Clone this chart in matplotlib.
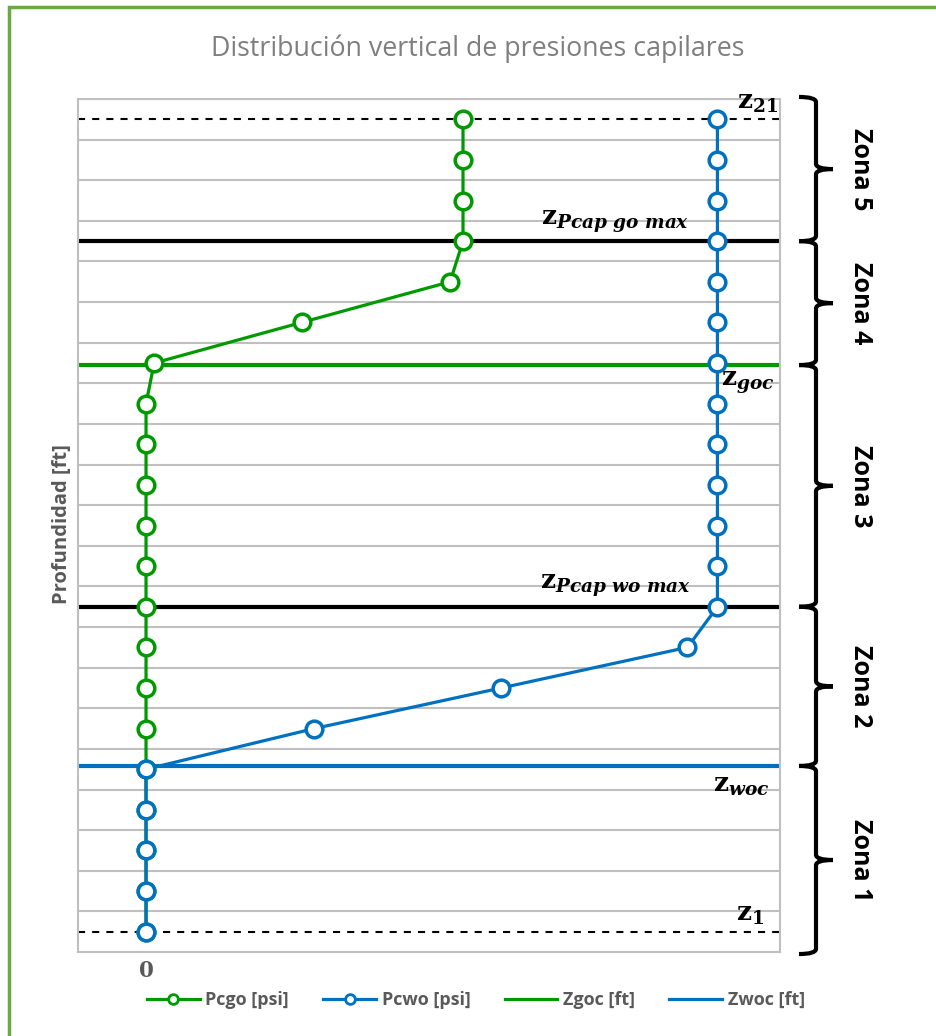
import numpy as np
import matplotlib.pyplot as plt
from matplotlib.path import Path
from matplotlib.patches import PathPatch, Rectangle
from matplotlib.lines import Line2D

plt.rcParams['mathtext.fontset'] = 'custom'
plt.rcParams['mathtext.rm'] = 'DejaVu Serif:bold'
plt.rcParams['mathtext.it'] = 'DejaVu Serif:italic:bold'

# depth index (1 = bottom z1, 21 = top z21)
depth = np.arange(1, 22)
pcgo = [0, 0, 0, 0, 0, 0, 0, 0, 0, 0, 0, 0, 0, 0, 0.12, 2.29, 4.47, 4.66, 4.66, 4.66, 4.66]
pcwo = [0, 0, 0, 0, 0, 2.47, 5.22, 7.96, 8.4, 8.4, 8.4, 8.4, 8.4, 8.4, 8.4, 8.4, 8.4, 8.4, 8.4, 8.4, 8.4]
zgoc = 14.95
zwoc = 5.08
z_pcap_go_max = 18
z_pcap_wo_max = 9
z_top = 21
z_bot = 1

zonas = ['Zona 1', 'Zona 2', 'Zona 3', 'Zona 4', 'Zona 5']
zona_lims = [0.45, zwoc, z_pcap_wo_max, zgoc, z_pcap_go_max, 21.55]

green = '#009a00'
blue = '#0070c0'
gray_txt = '#595959'
grid_c = '#bfbfbf'

fig = plt.figure(figsize=(9.36, 10.36), dpi=100)
ax = fig.add_axes([78 / 936, 1 - 952 / 1036, 702 / 936, 853 / 1036])

# outer green frame (only top and left edge fall inside the image)
fig.patches.append(Rectangle((8.5 / 936, -1), 2, 2 - 7 / 1036, transform=fig.transFigure,
                             fill=False, edgecolor='#6aaa44', linewidth=2.5))

ax.set_xlim(-1, 9.32)
ax.set_ylim(0.5, 21.5)
ax.set_yticks(np.arange(0.5, 21.6, 1))
ax.set_yticklabels([])
ax.tick_params(axis='y', length=0)
ax.grid(axis='y', color=grid_c, linewidth=1.5)
ax.set_axisbelow(True)
ax.set_xticks([0])
ax.set_xticklabels(['0'], fontfamily='DejaVu Serif', fontweight='bold', fontsize=15.5, color=gray_txt)
ax.tick_params(axis='x', length=0, pad=6)
for s in ax.spines.values():
    s.set_color(grid_c)
    s.set_linewidth(1.5)

ax.axhline(z_top, color='black', linestyle=(0, (3.4, 3.4)), linewidth=1.5)
ax.axhline(z_bot, color='black', linestyle=(0, (3.4, 3.4)), linewidth=1.5)
ax.axhline(z_pcap_go_max, color='black', linewidth=3)
ax.axhline(z_pcap_wo_max, color='black', linewidth=3)
ax.axhline(zgoc, color=green, linewidth=3)
ax.axhline(zwoc, color=blue, linewidth=3)

ax.plot(pcgo, depth, color=green, linewidth=2.3, marker='o', markersize=12,
        markerfacecolor='white', markeredgewidth=2.5, markeredgecolor=green)
ax.plot(pcwo, depth, color=blue, linewidth=2.3, marker='o', markersize=12,
        markerfacecolor='white', markeredgewidth=2.5, markeredgecolor=blue)

# z labels
lab_kw = dict(fontsize=19, color='black')
ax.text(8.99, 21.1, r'$\mathrm{z}_{21}$', ha='center', va='bottom', **lab_kw)
ax.text(6.9, 18.15, r'$\mathrm{z}_{Pcap\ go\ max}$', ha='center', va='bottom', **lab_kw)
ax.text(8.84, 14.85, r'$\mathrm{z}_{goc}$', ha='center', va='top', **lab_kw)
ax.text(6.91, 9.18, r'$\mathrm{z}_{Pcap\ wo\ max}$', ha='center', va='bottom', **lab_kw)
ax.text(8.75, 4.93, r'$\mathrm{z}_{woc}$', ha='center', va='top', **lab_kw)
ax.text(8.88, 1.12, r'$\mathrm{z}_{1}$', ha='center', va='bottom', **lab_kw)

# curly braces on the right
trans = ax.get_yaxis_transform()
xa = lambda px: (px - 78) / 702.0
x0, x1, x2 = xa(799), xa(816), xa(833)
yr = 0.13
for i, name in enumerate(zonas):
    lo, hi = zona_lims[i], zona_lims[i + 1]
    mid = (lo + hi) / 2
    verts = [(x0, hi), (x1, hi), (x1, hi - yr),
             (x1, mid + yr), (x1, mid), (x2, mid),
             (x2, mid), (x1, mid), (x1, mid - yr),
             (x1, lo + yr), (x1, lo), (x0, lo)]
    codes = [Path.MOVETO, Path.CURVE3, Path.CURVE3,
             Path.LINETO, Path.CURVE3, Path.CURVE3,
             Path.MOVETO, Path.CURVE3, Path.CURVE3,
             Path.LINETO, Path.CURVE3, Path.CURVE3]
    ax.add_patch(PathPatch(Path(verts, codes), transform=trans, fill=False,
                           edgecolor='black', linewidth=3, clip_on=False))
    ax.text(xa(861), mid, name, transform=trans, rotation=270, ha='center', va='center',
            fontsize=18, fontweight='bold', fontfamily='Open Sans', color='black')

fig.text(0.51, 1 - 49 / 1036, 'Distribución vertical de presiones capilares', ha='center', va='center',
         fontsize=19.3, fontfamily='Open Sans', color='#7f7f7f')
fig.text(62 / 936, 1 - 524 / 1036, 'Profundidad [ft]', rotation=90, ha='center', va='center',
         fontsize=14.5, fontweight='bold', fontfamily='Open Sans', color=gray_txt)

handles = [
    Line2D([], [], color=green, linewidth=2.3, marker='o', markersize=7,
           markerfacecolor='white', markeredgewidth=2, label='Pcgo [psi]'),
    Line2D([], [], color=blue, linewidth=2.3, marker='o', markersize=7,
           markerfacecolor='white', markeredgewidth=2, label='Pcwo [psi]'),
    Line2D([], [], color=green, linewidth=2.3, label='Zgoc [ft]'),
    Line2D([], [], color=blue, linewidth=2.3, label='Zwoc [ft]'),
]
leg = fig.legend(handles=handles, loc='center', bbox_to_anchor=(476 / 936, 1 - 1000 / 1036), ncol=4,
                 frameon=False, handlelength=2.9, columnspacing=1.9, handletextpad=0.33,
                 prop={'family': 'Open Sans', 'weight': 'bold', 'size': 13})
for t in leg.get_texts():
    t.set_color(gray_txt)

fig.savefig('out.png', dpi=100)
